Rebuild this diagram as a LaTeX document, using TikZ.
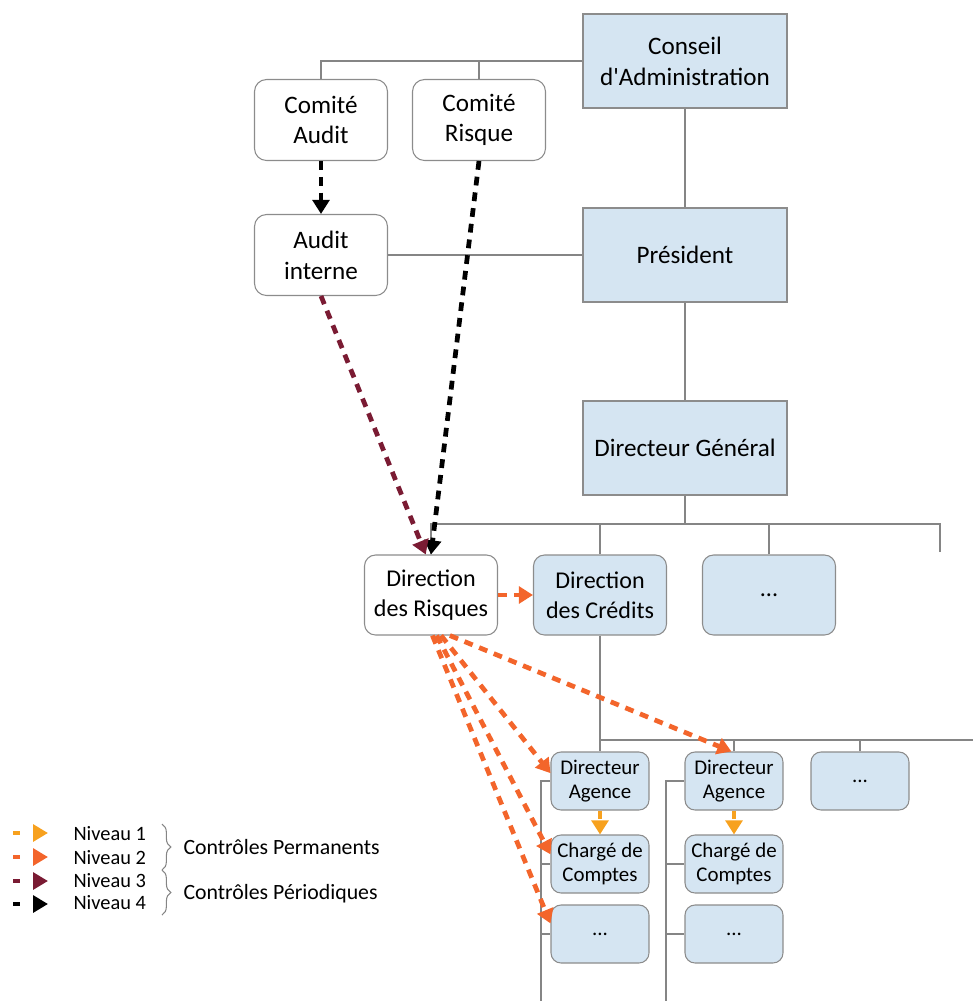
\documentclass[tikz,border=0pt]{standalone}
\usepackage{fontspec}
\setmainfont{Carlito}
\usepackage{tikz}
\usetikzlibrary{arrows.meta,positioning,decorations.pathreplacing}
\definecolor{bleu}{HTML}{D5E5F2}
\definecolor{bordgris}{HTML}{8C8C8C}
\definecolor{lignegris}{HTML}{858585}
\definecolor{niva}{HTML}{F7A11E}
\definecolor{nivb}{HTML}{F3652B}
\definecolor{nivc}{HTML}{7A1B33}
\definecolor{nivd}{HTML}{000000}

\begin{document}
\begin{tikzpicture}[x=0.02cm, y=-0.02cm,
  every node/.style={draw=bordgris, line width=0.6pt, align=center, inner sep=0pt},
  conseil/.style={fill=bleu, minimum width=4.08cm, minimum height=1.88cm, font=\fontsize{14.3}{17.5}\selectfont},
  comite/.style={fill=white, rounded corners=0.24cm, minimum width=2.66cm, minimum height=1.62cm, font=\fontsize{14.3}{17.5}\selectfont},
  direction/.style={rounded corners=0.22cm, minimum width=2.66cm, minimum height=1.6cm, font=\fontsize{13.7}{17}\selectfont},
  agence/.style={fill=bleu, rounded corners=0.2cm, minimum width=1.96cm, minimum height=1.16cm, font=\fontsize{11.9}{14}\selectfont},
  lien/.style={draw=lignegris, line width=0.6pt},
  niv/.style={line width=2.7pt, dash pattern=on 5pt off 4pt, -{Triangle[length=8pt,width=9.5pt]}},
  leg/.style={line width=2.2pt, dash pattern=on 4pt off 11pt, -{Triangle[length=8.5pt,width=9.5pt]}},
  legende/.style={draw=none, anchor=west, font=\fontsize{11.6}{13}\selectfont},
]
  \useasboundingbox (0,0) rectangle (973,1001);

  % Gouvernance
  \node[conseil] (ca) at (685,61) {Conseil\\d\textquotesingle Administration};
  \node[conseil] (pres) at (685,255) {Président};
  \node[conseil] (dg) at (685,448) {Directeur Général};
  \node[comite] (caudit) at (321,120) {Comité\\Audit};
  \node[comite] (crisque) at (479,120) {Comité\\Risque};
  \node[comite] (ai) at (321,255) {Audit\\interne};
  \draw[lien] (ca.west) -| (caudit.north);
  \draw[lien] (crisque.north) -- (crisque.north |- ca.west);
  \draw[lien] (ca) -- (pres);
  \draw[lien] (pres) -- (dg);
  \draw[lien] (ai.east) -- (pres.west);

  % Directions
  \node[direction, fill=white] (dr) at (431,595) {Direction\\des Risques};
  \node[direction, fill=bleu] (dc) at (600,595) {Direction\\des Crédits};
  \node[direction, fill=bleu] (dx) at (769,595) {...};
  \coordinate (bus1) at (685,524);
  \coordinate (bus1e) at (940,552);
  \draw[lien] (dg.south) -- (bus1);
  \draw[lien] (dr.north) |- (bus1);
  \draw[lien] (bus1e) |- (bus1);
  \draw[lien] (dc.north) -- (dc.north |- bus1);
  \draw[lien] (dx.north) -- (dx.north |- bus1);

  % Agences
  \node[agence] (da1) at (600,781) {Directeur\\Agence};
  \node[agence] (cc1) at (600,864) {Chargé de\\Comptes};
  \node[agence] (d1) at (600,934) {...};
  \node[agence] (da2) at (734,781) {Directeur\\Agence};
  \node[agence] (cc2) at (734,864) {Chargé de\\Comptes};
  \node[agence] (d2) at (734,934) {...};
  \node[agence] (dx3) at (860,781) {...};
  \coordinate (bus2e) at (973,740);
  \coordinate (col1) at (541,1001);
  \coordinate (col2) at (666,1001);
  \draw[lien] (dc.south) -- (da1.north);
  \draw[lien] (da1.north |- bus2e) -- (bus2e);
  \draw[lien] (da2.north) -- (da2.north |- bus2e);
  \draw[lien] (dx3.north) -- (dx3.north |- bus2e);
  \draw[lien] (col1) |- (da1.west);
  \draw[lien] (cc1.west -| col1) -- (cc1.west);
  \draw[lien] (d1.west -| col1) -- (d1.west);
  \draw[lien] (col2) |- (da2.west);
  \draw[lien] (cc2.west -| col2) -- (cc2.west);
  \draw[lien] (d2.west -| col2) -- (d2.west);

  % Niveaux de controle
  \draw[niv, nivd] (caudit.south) -- (ai.north);
  \draw[niv, nivd] (crisque.south) -- (dr.north);
  \draw[niv, nivc] (ai.south) -- ([xshift=-3pt]dr.north);
  \draw[niv, nivb] (dr.east) -- (dc.west);
  \draw[niv, nivb] (dr.-65) -- (da2.95);
  \draw[niv, nivb] (dr.-76) -- (da1.171);
  \draw[niv, nivb] (dr.-82) -- (cc1.169);
  \draw[niv, nivb] (dr.-88) -- (d1.168);
  \draw[niv, niva] (da1.south) -- (cc1.north);
  \draw[niv, niva] (da2.south) -- (cc2.north);

  % Legende
  \coordinate (l1a) at (13,833); \coordinate (l1b) at (48,833);
  \coordinate (l2a) at (13,857); \coordinate (l2b) at (48,857);
  \coordinate (l3a) at (13,881); \coordinate (l3b) at (48,881);
  \coordinate (l4a) at (13,904); \coordinate (l4b) at (48,904);
  \draw[leg, niva] (l1a) -- (l1b);
  \draw[leg, nivb] (l2a) -- (l2b);
  \draw[leg, nivc] (l3a) -- (l3b);
  \draw[leg, nivd] (l4a) -- (l4b);
  \node[legende] (t1) at (73,834) {Niveau 1};
  \node[legende] (t2) at (73,858) {Niveau 2};
  \node[legende] (t3) at (73,881) {Niveau 3};
  \node[legende] (t4) at (73,903) {Niveau 4};
  \draw[lien, decorate, decoration={brace, amplitude=5pt}] (162,824) -- (162,870);
  \draw[lien, decorate, decoration={brace, amplitude=5pt}] (162,870) -- (162,915);
  \node[legende, font=\fontsize{12.4}{14}\selectfont] (perm) at (183,847) {Contrôles Permanents};
  \node[legende, font=\fontsize{12.4}{14}\selectfont] (peri) at (183,894) {Contrôles Périodiques};
\end{tikzpicture}
\end{document}
